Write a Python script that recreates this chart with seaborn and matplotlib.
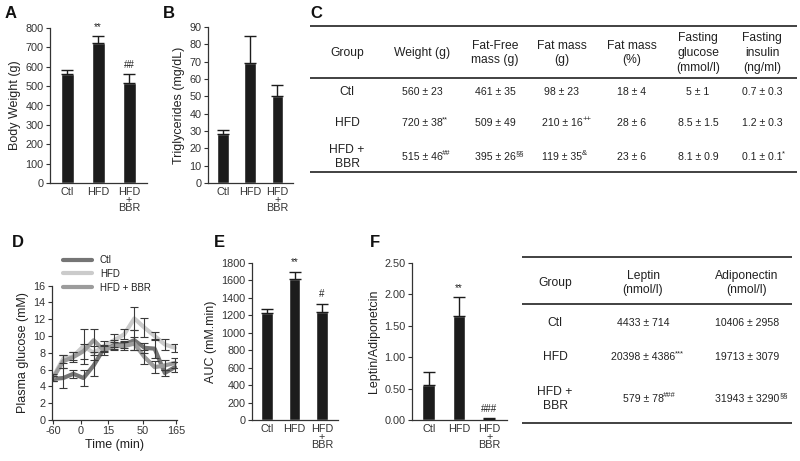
import matplotlib
matplotlib.use("Agg")
from matplotlib import pyplot as plt
import numpy as np
import pandas
import seaborn as sns

# ---- data ----
groups = ["Ctl", "HFD", "HFD\n+\nBBR"]

body_weight = [560, 720, 515]
body_weight_err = [23, 38, 46]
body_weight_marks = ["", "**", "##"]

triglycerides = [28.5, 69, 50]
triglycerides_err = [1.8, 16, 6.5]
triglycerides_marks = ["", "", ""]

auc = [1225, 1620, 1240]
auc_err = [50, 80, 95]
auc_marks = ["", "**", "#"]

lep_adipo = [0.55, 1.65, 0.02]
lep_adipo_err = [0.21, 0.31, 0.004]
lep_adipo_marks = ["", "**", "###"]

ogtt_groups = ["Ctl", "HFD", "HFD + BBR"]
time_idx = list(range(13))
time_tick_pos = [0, 2.75, 5.4, 8.85, 12.1]
time_tick_labels = ["-60", "0", "15", "50", "165"]
glucose_ctl = [4.9, 5.0, 5.5, 5.0, 6.5, 8.5, 9.0, 9.0, 9.5, 8.6, 8.5, 5.6, 6.3]
glucose_hfd = [5.1, 7.3, 7.6, 8.8, 8.0, 8.8, 9.5, 10.2, 12.1, 11.0, 10.0, 9.0, 8.6]
glucose_bbr = [5.0, 7.0, 7.5, 8.2, 9.5, 8.3, 8.8, 8.8, 9.1, 7.5, 6.3, 6.5, 6.8]
glucose_ctl_err = [0.3, 1.2, 0.5, 1.0, 1.2, 0.4, 0.5, 0.4, 1.2, 0.6, 1.1, 0.4, 0.6]
glucose_hfd_err = [0.4, 0.5, 0.5, 2.1, 0.8, 0.6, 0.8, 0.6, 1.4, 1.1, 0.5, 0.7, 0.5]
glucose_bbr_err = [0.3, 0.8, 0.6, 0.9, 1.4, 0.5, 0.5, 0.5, 0.8, 0.8, 0.7, 0.6, 0.6]

table_c_header = ["Group", "Weight (g)", "Fat-Free\nmass (g)", "Fat mass\n(g)", "Fat mass\n(%)",
                  "Fasting\nglucose\n(mmol/l)", "Fasting\ninsulin\n(ng/ml)"]
table_c_rows = [
    ["Ctl", "560 ± 23", "461 ± 35", "98 ± 23", "18 ± 4", "5 ± 1", "0.7 ± 0.3"],
    ["HFD", "720 ± 38", "509 ± 49", "210 ± 16", "28 ± 6", "8.5 ± 1.5", "1.2 ± 0.3"],
    ["HFD +\nBBR", "515 ± 46", "395 ± 26", "119 ± 35", "23 ± 6", "8.1 ± 0.9", "0.1 ± 0.1"],
]
table_c_sup = [
    ["", "", "", "", "", "", ""],
    ["", "**", "", "++", "", "", ""],
    ["", "##", "§§", "&", "", "", "*"],
]

table_f_header = ["Group", "Leptin\n(nmol/l)", "Adiponectin\n(nmol/l)"]
table_f_rows = [
    ["Ctl", "4433 ± 714", "10406 ± 2958"],
    ["HFD", "20398 ± 4386", "19713 ± 3079"],
    ["HFD +\nBBR", "579 ± 78", "31943 ± 3290"],
]
table_f_sup = [
    ["", "", ""],
    ["", "***", ""],
    ["", "###", "§§"],
]

# ---- style ----
sns.set_style("ticks")
plt.rcParams['font.family'] = ['Liberation Sans', 'DejaVu Sans']
plt.rcParams['axes.edgecolor'] = '#333333'
plt.rcParams['axes.linewidth'] = 0.9
plt.rcParams['xtick.color'] = '#333333'
plt.rcParams['ytick.color'] = '#333333'
plt.rcParams['text.color'] = '#222222'
plt.rcParams['axes.labelcolor'] = '#222222'

W, H = 800, 461
fig = plt.figure(figsize=(8, 4.61), dpi=100)


def px_axes(left, right, top, bottom):
    return fig.add_axes([left / W, 1 - bottom / H, (right - left) / W, (bottom - top) / H])


# background axes for the tables and panel letters (pixel coords)
bg = fig.add_axes([0, 0, 1, 1])
bg.set_xlim(0, W)
bg.set_ylim(H, 0)
bg.axis("off")
bg.patch.set_alpha(0)


def bar_panel(ax, values, errs, marks, ymax, ystep, ylabel, fmt="{:.0f}"):
    sns.barplot(x=groups, y=values, color="#1c1c1c", saturation=1, width=0.42, ax=ax)
    ax.errorbar(range(3), values, yerr=[np.zeros(3), errs], fmt="none", ecolor="#1c1c1c",
                elinewidth=1, capsize=4.5, capthick=1)
    for i, m in enumerate(marks):
        if m:
            ax.annotate(m, xy=(i, values[i] + errs[i]), xytext=(0, 3), textcoords="offset points",
                        ha="center", va="bottom", fontsize=7)
    ax.set_xlim(-0.55, 2.58)
    ax.set_ylim(0, ymax)
    ticks = np.arange(0, ymax + ystep / 2, ystep)
    ax.set_yticks(ticks)
    ax.set_yticklabels([fmt.format(t) for t in ticks])
    ax.set_ylabel(ylabel, fontsize=9, labelpad=3)
    ax.set_xlabel("")
    ax.tick_params(axis="y", labelsize=7.8, length=3, width=0.8, pad=1.5)
    ax.tick_params(axis="x", labelsize=7.8, length=0, pad=3)
    for lab in ax.get_xticklabels():
        lab.set_linespacing(0.75)
        lab.set_va("top")
    ax.patch.set_alpha(0)
    sns.despine(ax=ax)


axA = px_axes(50, 147, 28, 183)
bar_panel(axA, body_weight, body_weight_err, body_weight_marks, 800, 100, "Body Weight (g)")

axB = px_axes(208, 293, 27, 183)
bar_panel(axB, triglycerides, triglycerides_err, triglycerides_marks, 90, 10, "Triglycerides (mg/dL)")

axE = px_axes(252, 338, 263, 420)
bar_panel(axE, auc, auc_err, auc_marks, 1800, 200, "AUC (mM.min)")

axF = px_axes(412, 507, 263, 420)
bar_panel(axF, lep_adipo, lep_adipo_err, lep_adipo_marks, 2.5, 0.5, "Leptin/Adiponetcin", fmt="{:.2f}")

# ---- panel D ----
axD = px_axes(52, 177, 285.7, 420)
df = pandas.DataFrame({
    "t": time_idx * 3,
    "glucose": glucose_ctl + glucose_hfd + glucose_bbr,
    "group": [g for g in ogtt_groups for _ in time_idx],
})
palette = {"Ctl": "#757575", "HFD": "#cbcbcb", "HFD + BBR": "#9c9c9c"}
sns.lineplot(data=df, x="t", y="glucose", hue="group", hue_order=ogtt_groups, palette=palette,
             linewidth=3, errorbar=None, ax=axD)
for vals, errs in [(glucose_ctl, glucose_ctl_err), (glucose_hfd, glucose_hfd_err), (glucose_bbr, glucose_bbr_err)]:
    axD.errorbar(time_idx, vals, yerr=errs, fmt="none", ecolor="#3a3a3a", elinewidth=0.8,
                 capsize=3, capthick=0.8, zorder=3)
axD.set_xlim(-0.1, 12.2)
axD.set_ylim(0, 16)
axD.set_yticks(range(0, 17, 2))
axD.set_xticks(time_tick_pos)
axD.set_xticklabels(time_tick_labels)
axD.tick_params(labelsize=7.8, length=3, width=0.8, pad=1.5)
axD.set_xlabel("Time (min)", fontsize=9, labelpad=2)
axD.set_ylabel("Plasma glucose (mM)", fontsize=9, labelpad=3)
axD.legend(frameon=False, loc="upper left", bbox_to_anchor=(63 / W, 1 - 255 / H),
           bbox_transform=fig.transFigure, fontsize=7, handlelength=3, labelspacing=0.4,
           borderaxespad=0, borderpad=0, handletextpad=0.8)
axD.patch.set_alpha(0)
sns.despine(ax=axD)

# ---- tables ----
def draw_table(header, rows, sups, col_x, header_y, row_y, line_y, x0, x1):
    bg.hlines(line_y, x0, x1, colors="#333333", linewidth=1.3)
    for x, h in zip(col_x, header):
        bg.text(x, header_y, h, ha="center", va="center", fontsize=8.7, linespacing=1.3)
    for r, y in zip(range(len(rows)), row_y):
        for c, x in enumerate(col_x):
            size = 8.7 if c == 0 else 7.6
            t = bg.text(x, y, rows[r][c], ha="center", va="center", fontsize=size, linespacing=1.3)
            if sups[r][c]:
                bg.annotate(sups[r][c], xy=(1.0, 0.5), xycoords=t, ha="left", va="bottom", fontsize=5.5)


draw_table(table_c_header, table_c_rows, table_c_sup,
           [347, 422, 495, 562, 632, 698, 762], 53, [92, 123, 157], [26, 78, 172], 310, 797)
draw_table(table_f_header, table_f_rows, table_f_sup,
           [555, 643, 747], 283, [322.7, 357, 399], [257, 304, 423], 522, 792)

# panel letters
for letter, x, y in [("A", 5, 14), ("B", 163, 14), ("C", 310, 13),
                     ("D", 12, 242), ("E", 214, 242), ("F", 370, 242)]:
    bg.text(x, y, letter, fontsize=12, fontweight="bold", ha="left", va="center", color="#111111")

plt.savefig("out.png", dpi=100)
